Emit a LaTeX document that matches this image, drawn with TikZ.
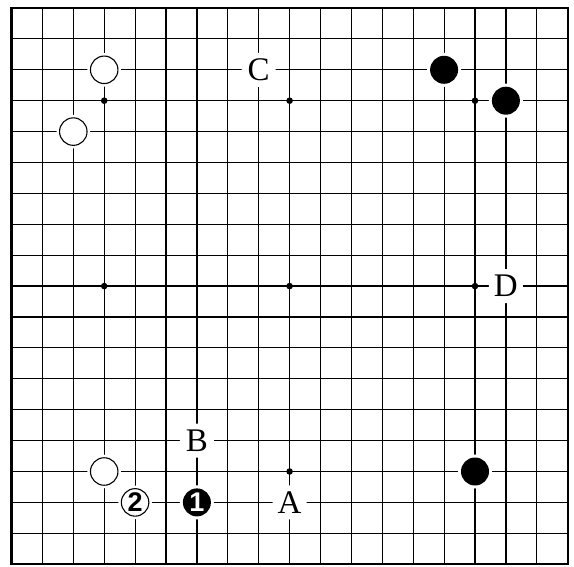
\documentclass[tikz,border=0pt]{standalone}
\usepackage{fontspec}
\setmainfont{Liberation Serif}
\newfontfamily\digitfont{Liberation Sans}
\begin{document}
\begin{tikzpicture}[x=30.9pt,y=-30.9pt,
  gridline/.style={line width=1.2pt},
  borderline/.style={line width=2.2pt},
  bstone/.style={circle, fill=black, minimum size=28pt, inner sep=0pt, text=white,
    font=\digitfont\bfseries\fontsize{27}{27}\selectfont, preaction={draw=white, line width=6pt}},
  wstone/.style={circle, draw=black, line width=1.1pt, fill=white, minimum size=27.5pt, inner sep=0pt,
    font=\digitfont\bfseries\fontsize{27}{27}\selectfont, preaction={draw=white, line width=6pt}},
  letterlbl/.style={circle, fill=white, minimum size=34pt, inner sep=0pt,
    font=\fontsize{33}{33}\selectfont},
  star/.style={circle, fill=black, minimum size=6.6pt, inner sep=0pt}]
\useasboundingbox (-11.5pt,8pt) rectangle (562.5pt,-559pt);
% grid
\foreach \i in {1,...,17} {
  \draw[gridline] (\i,0) -- (\i,18);
  \draw[gridline] (0,\i) -- (18,\i);
}
\draw[borderline] (0,0) rectangle (18,18);
% star points
\foreach \cx/\cy [count=\k] in {3/3,9/3,15/3,3/9,9/9,15/9,3/15,9/15,15/15}
  \node[star] (star\k) at (\cx,\cy) {};
% stones
\node[wstone] (w1) at (3,2) {};
\node[wstone] (w2) at (2,4) {};
\node[wstone] (w3) at (3,15) {};
\node[bstone] (b1) at (14,2) {};
\node[bstone] (b2) at (16,3) {};
\node[bstone] (b3) at (15,15) {};
\node[wstone] (m2) at (4,16) {2};
\node[bstone] (m1) at (6,16) {1};
% letters
\node[letterlbl] (lA) at (9,16) {A};
\node[letterlbl] (lB) at (6,14) {B};
\node[letterlbl] (lC) at (8,2) {C};
\node[letterlbl] (lD) at (16,9) {D};
\end{tikzpicture}
\end{document}
